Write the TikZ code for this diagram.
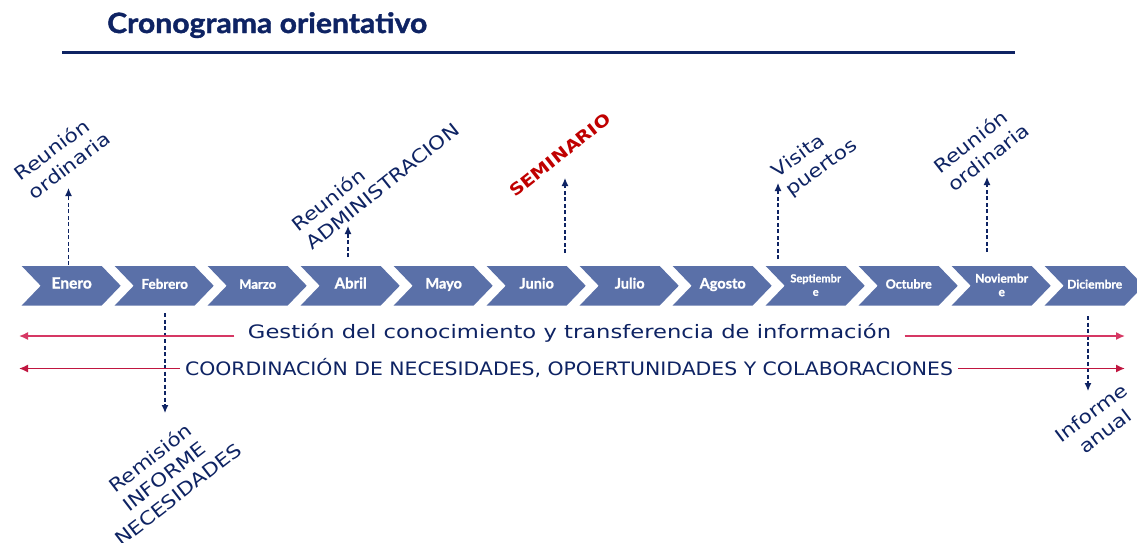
\documentclass[tikz,border=0pt]{standalone}
\usepackage{fontspec}
\usepackage{graphicx}
\setmainfont{Lato}[BoldFeatures={FakeBold=1.3}]
\newfontfamily\hw[FakeStretch=1.17]{DejaVu Sans}
\usetikzlibrary{arrows.meta}
\definecolor{navy}{RGB}{14,35,99}
\definecolor{chev}{RGB}{90,112,168}
\definecolor{redA}{RGB}{214,56,100}
\definecolor{redB}{RGB}{192,22,64}
\definecolor{semred}{RGB}{192,0,0}
\begin{document}
\begin{tikzpicture}[x=1pt,y=-1pt,
  chevron/.style={fill=chev},
  month/.style={text=white, font=\bfseries, align=center, inner sep=0pt},
  mbase/.style={month, anchor=base},
  hand/.style={text=navy, inner sep=0pt, font=\hw\fontsize{18.5}{23}\selectfont},
  evarrow/.style={draw=navy, dash pattern=on 4pt off 2.5pt, line width=1.2pt, -{Latex[length=8pt,width=7pt]}},
  spanarrow/.style={line width=1.5pt, -{Latex[length=9pt,width=8pt]}}
]
\useasboundingbox (0,0) rectangle (1137,542);
% title
\node[anchor=base west, inner sep=0pt, text=navy, font=\bfseries\fontsize{28}{32}\selectfont] (title) at (107,33) {\resizebox{320pt}{\height}{Cronograma orientativo}};
\coordinate (ruleA) at (62,52);
\coordinate (ruleB) at (1015,52);
\draw[navy, line width=3pt] (ruleA) -- (ruleB);
% chevrons
\foreach \i in {0,...,11}{
  \pgfmathsetmacro\xo{21.7+93*\i}
  \fill[chevron] (\xo,266) -- ++(80,0) -- ++(19,19.75) -- ++(-19,19.75) -- ++(-80,0) -- ++(19,-19.75) -- cycle;
}
\node[mbase, font=\bfseries\fontsize{15.5}{17}\selectfont] (ene) at (71.7,288.5) {Enero};
\node[mbase, font=\bfseries\fontsize{13.5}{15}\selectfont] (feb) at (164.7,288.8) {Febrero};
\node[mbase, font=\bfseries\fontsize{13}{15}\selectfont] (mar) at (257.7,288.8) {Marzo};
\node[mbase, font=\bfseries\fontsize{15}{17}\selectfont] (abr) at (350.7,288.5) {Abril};
\node[mbase, font=\bfseries\fontsize{14.5}{17}\selectfont] (may) at (443.7,288.5) {Mayo};
\node[mbase, font=\bfseries\fontsize{14.5}{17}\selectfont] (jun) at (536.7,288.5) {Junio};
\node[mbase, font=\bfseries\fontsize{14.5}{17}\selectfont] (jul) at (629.7,288.5) {Julio};
\node[mbase, font=\bfseries\fontsize{14.5}{17}\selectfont] (ago) at (722.7,288.5) {Agosto};
\node[month, font=\bfseries\fontsize{11}{13.5}\selectfont] (sep) at (815.7,285) {Septiembr\\e};
\node[mbase, font=\bfseries\fontsize{12.5}{14}\selectfont] (oct) at (908.7,288.5) {Octubre};
\node[month, font=\bfseries\fontsize{12}{13.5}\selectfont] (nov) at (1001.7,285) {Noviembr\\e};
\node[mbase, font=\bfseries\fontsize{12}{14}\selectfont] (dic) at (1094.7,288.5) {Diciembre};
% event labels
\node[hand, rotate=37, align=left] (l1) at (62,156) {Reunión\\ordinaria};
\node[hand, rotate=38.5, align=left] (l4) at (375,177) {Reunión\\ADMINISTRACION};
\node[hand, rotate=38.4, text=semred, font=\hw\bfseries\fontsize{16.5}{20}\selectfont] (l6) at (560,155) {SEMINARIO};
\node[hand, rotate=36, align=left] (l9) at (815,159) {Visita\\puertos};
\node[hand, rotate=38, align=left] (l11) at (981,148) {Reunión\\ordinaria};
\node[hand, rotate=37.6, align=center] (l2) at (164,476) {Remisión\\INFORME\\NECESIDADES};
\node[hand, rotate=37, align=center] (l12) at (1098,422) {Informe\\anual};
% event arrows
\coordinate (e1a) at (68.5,265); \coordinate (e1b) at (68.5,188);
\coordinate (e4a) at (348,257);  \coordinate (e4b) at (348,226);
\coordinate (e6a) at (565,253);  \coordinate (e6b) at (565,178);
\coordinate (e9a) at (778,259);  \coordinate (e9b) at (778,183);
\coordinate (e11a) at (987,252); \coordinate (e11b) at (987,177);
\coordinate (e2a) at (165,313);  \coordinate (e2b) at (165,413);
\coordinate (e12a) at (1088,316); \coordinate (e12b) at (1088,391);
\draw[evarrow] (e1a) -- (e1b);
\draw[evarrow] (e4a) -- (e4b);
\draw[evarrow] (e6a) -- (e6b);
\draw[evarrow] (e9a) -- (e9b);
\draw[evarrow] (e11a) -- (e11b);
\draw[evarrow] (e2a) -- (e2b);
\draw[evarrow] (e12a) -- (e12b);
% span lines
\coordinate (L1) at (19,336); \coordinate (R1) at (1125,336);
\coordinate (L2) at (19,368.5); \coordinate (R2) at (1125,368.5);
\node[hand, anchor=base, inner xsep=13.5pt, inner ysep=0pt] (gest) at (569.5,338.5) {\resizebox{643pt}{\height}{Gestión del conocimiento y transferencia de información}};
\node[hand, anchor=base, inner xsep=5pt, inner ysep=0pt, xshift=-3pt] (coord) at (572,375) {\resizebox{768pt}{\height}{COORDINACIÓN DE NECESIDADES, OPOERTUNIDADES Y COLABORACIONES}};
\draw[spanarrow, redA] (gest.west |- L1) -- (L1);
\draw[spanarrow, redA] (gest.east |- R1) -- (R1);
\draw[spanarrow, redB] (coord.west |- L2) -- (L2);
\draw[spanarrow, redB] (coord.east |- R2) -- (R2);
\end{tikzpicture}
\end{document}
